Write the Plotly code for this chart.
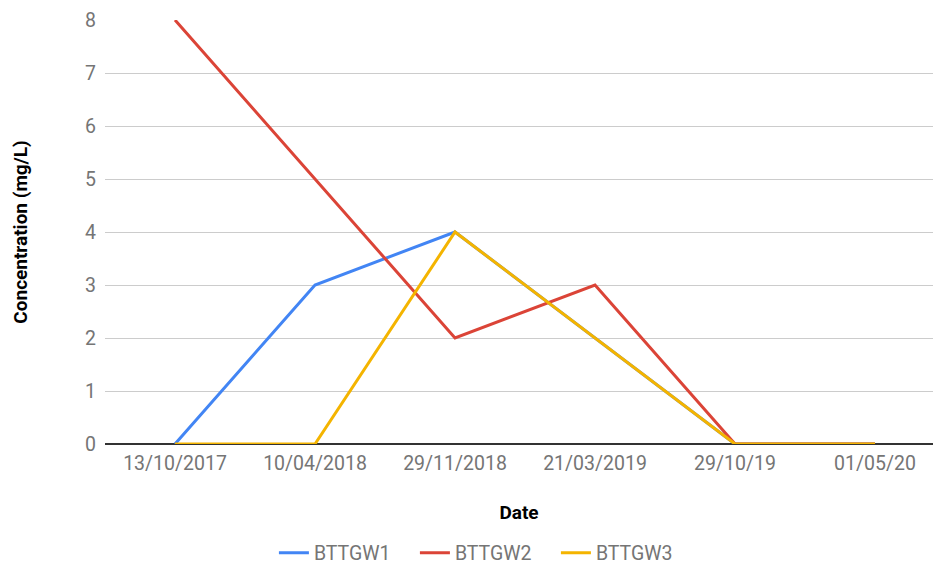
import plotly.graph_objects as go

dates = ["13/10/2017", "10/04/2018", "29/11/2018", "21/03/2019", "29/10/19", "01/05/20"]
bttgw1 = [0, 3, 4, 2, 0, 0]
bttgw2 = [8, 5, 2, 3, 0, 0]
bttgw3 = [0, 0, 4, 2, 0, 0]

series = [("BTTGW1", bttgw1, "#4285F4"), ("BTTGW2", bttgw2, "#DB4437"), ("BTTGW3", bttgw3, "#F4B400")]

fig = go.Figure()
for name, vals, col in series:
    fig.add_trace(go.Scatter(x=dates, y=vals, name=name, mode="lines",
                             line=dict(color=col, width=3)))

fig.update_layout(
    width=933, height=565,
    margin=dict(l=105, r=0, t=20, b=121, autoexpand=False),
    plot_bgcolor="white", paper_bgcolor="white",
    font=dict(family="Roboto", size=19, color="#757575"),
    showlegend=True,
    legend=dict(orientation="h", x=0.204, xanchor="left", y=-0.257, yanchor="middle",
                entrywidth=96, entrywidthmode="pixels",
                font=dict(size=19.5, color="#757575")),
    xaxis=dict(type="category", range=[-0.5, 5.414], showgrid=False, showline=False,
               zeroline=False, ticks="", ticklabelstandoff=5, automargin=False,
               tickfont=dict(size=19.5, color="#757575"),
               title=dict(text="<b>Date</b>", font=dict(size=19, color="#000000"), standoff=32)),
    yaxis=dict(range=[0, 8], dtick=1, showgrid=True, gridcolor="#cccccc", gridwidth=1,
               zeroline=True, zerolinecolor="#333333", zerolinewidth=1.5, showline=False,
               ticks="", ticklabelstandoff=8, automargin=False,
               tickfont=dict(size=19.5, color="#757575"),
               title=dict(text="<b>Concentration (mg/L)</b>", font=dict(size=19, color="#000000"), standoff=52)),
)

fig.write_html("out.html", config={"displayModeBar": False},
               post_script="document.body.style.margin='0';")
